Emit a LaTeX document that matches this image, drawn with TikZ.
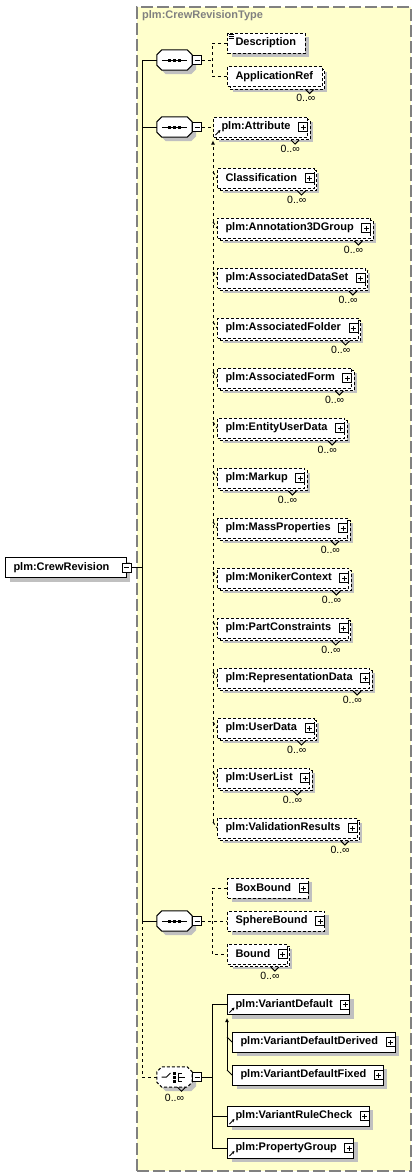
\documentclass[tikz,border=0pt]{standalone}
\usepackage{fontspec}
\setmainfont{Liberation Sans}
\usetikzlibrary{shadows,arrows.meta}
\definecolor{typefill}{RGB}{255,255,204}
\definecolor{typeline}{RGB}{128,128,128}
\definecolor{shadowgray}{RGB}{192,192,192}
\tikzset{
  elrpad/.store in=\elrpad, elrpad=17pt,
  optbox/.style={dash pattern=on 3pt off 2pt},
  elem/.style={draw, fill=white, line width=1pt, minimum height=20pt,
    inner xsep=0pt, inner ysep=0pt, anchor=west,
    font=\fontsize{11}{13}\selectfont\bfseries,
    execute at begin node={\hspace*{8pt}},
    execute at end node={\hspace*{\elrpad}}},
  single/.style={elem, drop shadow={shadow xshift=4pt, shadow yshift=-4pt, fill=shadowgray, opacity=1}},
  multi/.style={elem, optbox,
    drop shadow={shadow xshift=5pt, shadow yshift=-5pt, fill=shadowgray, opacity=1},
    copy shadow={shadow xshift=2.5pt, shadow yshift=-2.5pt, fill=white, draw=black, line width=1pt, dash pattern=on 3pt off 2pt}},
  refel/.style={path picture={\draw[line width=1pt, solid, -{Stealth[length=3pt, width=3pt]}]
    ([shift={(2pt,2pt)}]path picture bounding box.south west) -- ++(5pt,5pt);}},
  docel/.style={path picture={\draw[line width=1pt, solid]
    ([shift={(1pt,-1.5pt)}]path picture bounding box.north west) -- ++(5pt,0pt) ++(-5pt,-2pt) -- ++(5pt,0pt) ++(-5pt,-2pt) -- ++(5pt,0pt);}},
  plusbox/.style={draw, solid, fill=white, line width=1pt, minimum size=9pt, inner sep=0pt, anchor=east,
    path picture={\draw[line width=1pt] ([xshift=2pt]path picture bounding box.west) -- ([xshift=-2pt]path picture bounding box.east)
      ([yshift=2pt]path picture bounding box.south) -- ([yshift=-2pt]path picture bounding box.north);}},
  minusbox/.style={draw, solid, fill=white, line width=1pt, minimum size=9pt, inner sep=0pt, anchor=west,
    path picture={\draw[line width=1pt] ([xshift=2pt]path picture bounding box.west) -- ([xshift=-2pt]path picture bounding box.east);}},
  grpbox/.style={rectangle, minimum width=35pt, minimum height=20pt, inner sep=0pt},
  octpath/.style={insert path={([xshift=5pt]#1.north west) -- ([xshift=-5pt]#1.north east) -- ([yshift=-5pt]#1.north east)
    -- ([yshift=5pt]#1.south east) -- ([xshift=-5pt]#1.south east) -- ([xshift=5pt]#1.south west)
    -- ([yshift=5pt]#1.south west) -- ([yshift=-5pt]#1.north west) -- cycle}},
  occ/.style={anchor=north east, inner sep=0pt, font=\fontsize{10.5}{12}\selectfont},
  notch/.style={line width=1pt, solid},
  conn/.style={line width=1pt},
  optline/.style={line width=1pt, dash pattern=on 3pt off 3pt}
}
% Sequenz- und Auswahl-Symbol
\newcommand{\seqsym}[1]{%
  \path[fill=shadowgray, transform canvas={shift={(4pt,-4pt)}}, octpath=#1];
  \draw[conn, fill=white, octpath=#1];
  \draw[conn] ([xshift=5pt]#1.west) -- ([xshift=-5pt]#1.east);
  \foreach \dx in {-5,0,5} \fill[black] ([xshift=\dx pt]#1.center) +(-1.5pt,-1.5pt) rectangle +(1.5pt,1.5pt);}
\newcommand{\choicesym}[1]{%
  \path[fill=shadowgray, transform canvas={shift={(4pt,-4pt)}}, octpath=#1];
  \draw[conn, optbox, fill=white, octpath=#1];
  \draw[conn] ([xshift=-13pt]#1.center) -- ++(5pt,0pt) -- ++(4pt,4pt);
  \foreach \dy in {-4,0,4} \fill[black] ([yshift=\dy pt]#1.center) +(-1.5pt,-1.5pt) rectangle +(1.5pt,1.5pt);
  \draw[conn] ([shift={(4pt,4.5pt)}]#1.center) -- ++(0pt,-9pt)
    ([shift={(4pt,4pt)}]#1.center) -- ++(3pt,0pt)
    ([shift={(4pt,-4pt)}]#1.center) -- ++(3pt,0pt)
    ([xshift=4pt]#1.center) -- ++(6pt,0pt);
  \draw[notch] ([xshift=3pt]#1.south) -- ++(4pt,-4pt) -- ++(4pt,4pt);}
\begin{document}
\begin{tikzpicture}[x=1pt, y=-1pt]
\useasboundingbox (0,0) rectangle (416,1176);
\fill[white] (0,0) rectangle (416,1176);
% Typ-Rahmen:
\node[draw=typeline, fill=typefill, line width=1.5pt, dash pattern=on 12pt off 4pt, anchor=north west,
  minimum width=274pt, minimum height=1164pt, inner sep=0pt] (ct) at (136,6) {};
\node[anchor=west, inner sep=0pt, text=typeline, font=\fontsize{11}{13}\selectfont\bfseries] (ctl) at (142,16) {plm:CrewRevisionType};
% Wurzel:
\node[single] (root) at (5,567.5) {plm:CrewRevision};
\node[minusbox, anchor=center] (rx) at (root.east) {};
\coordinate (tk) at (142,0);
\coordinate (br) at (212,0);
% Sequenzen:
\node[grpbox] (s1) at (174.5,60) {};
\seqsym{s1}
\node[minusbox] (s1x) at (s1.east) {};
\node[grpbox] (s2) at (174.5,127) {};
\seqsym{s2}
\node[minusbox] (s2x) at (s2.east) {};
\node[grpbox] (s3) at (174.5,921) {};
\seqsym{s3}
\node[minusbox] (s3x) at (s3.east) {};
\node[grpbox] (ch) at (174.5,1077) {};
\choicesym{ch}
\node[minusbox] (chx) at (ch.east) {};
\node[occ, anchor=north] (chm) at ([yshift=-7pt]ch.south) {0..∞};
% Sequenz 1:
\node[single, optbox, docel, elrpad=9pt] (desc) at (227,43) {Description};
\node[multi, elrpad=9pt] (app) at (227,76.5) {ApplicationRef};
\draw[notch] ([xshift=-17pt,yshift=-2.5pt]app.south east) -- ++(4pt,-4pt) -- ++(4pt,4pt);
\node[occ] (appm) at ([xshift=-7pt,yshift=-7pt]app.south east) {0..∞};
% Sequenz 2:
\node[multi, refel] (attr) at (213,127) {plm:Attribute};
\node[plusbox] (attrx) at (attr.east) {};
\draw[notch] ([xshift=-17pt,yshift=-2.5pt]attr.south east) -- ++(4pt,-4pt) -- ++(4pt,4pt);
\node[occ] (attrm) at ([xshift=-8pt,yshift=-7pt]attr.south east) {0..∞};
\foreach \nm [count=\i] in {Classification, plm:Annotation3DGroup, plm:AssociatedDataSet, plm:AssociatedFolder,
  plm:AssociatedForm, plm:EntityUserData, plm:Markup, plm:MassProperties, plm:MonikerContext,
  plm:PartConstraints, plm:RepresentationData, plm:UserData, plm:UserList, plm:ValidationResults}{
  \node[multi] (m\i) at (217,128+50*\i) {\nm};
  \node[plusbox] (mx\i) at (m\i.east) {};
  \draw[notch] ([xshift=-17pt,yshift=-2.5pt]m\i.south east) -- ++(4pt,-4pt) -- ++(4pt,4pt);
  \node[occ] (mm\i) at ([xshift=-8pt,yshift=-7pt]m\i.south east) {0..∞};
  \draw[optline] ([yshift=6pt]m\i.west -| attr.west) -- (m\i.west);
}
\draw[optline, -{Latex[length=4pt, width=4pt]}] ([yshift=6pt]m14.west -| attr.west) -- ([yshift=-3pt]attr.south west);
% Sequenz 3:
\node[single, optbox] (bxb) at (227,888) {BoxBound};
\node[plusbox] (bxbx) at (bxb.east) {};
\node[single, optbox] (sph) at (227,921) {SphereBound};
\node[plusbox] (sphx) at (sph.east) {};
\node[multi] (bnd) at (227,954) {Bound};
\node[plusbox] (bndx) at (bnd.east) {};
\draw[notch] ([xshift=-17pt,yshift=-2.5pt]bnd.south east) -- ++(4pt,-4pt) -- ++(4pt,4pt);
\node[occ] (bndm) at ([xshift=-8pt,yshift=-7pt]bnd.south east) {0..∞};
% Auswahl:
\node[single, refel] (vd) at (227,1004.5) {plm:VariantDefault};
\node[plusbox] (vdx) at (vd.east) {};
\node[single] (vdd) at (232,1042) {plm:VariantDefaultDerived};
\node[plusbox] (vddx) at (vdd.east) {};
\node[single] (vf) at (232,1075) {plm:VariantDefaultFixed};
\node[plusbox] (vfx) at (vf.east) {};
\node[single, refel] (vr) at (227,1116) {plm:VariantRuleCheck};
\node[plusbox] (vrx) at (vr.east) {};
\node[single, refel] (pg) at (227,1148) {plm:PropertyGroup};
\node[plusbox] (pgx) at (pg.east) {};
% Linien:
\draw[conn] (rx.east) -- (rx.east -| tk);
\draw[conn] (s1.west -| tk) -- (s3.west -| tk);
\draw[conn] (s1.west -| tk) -- (s1.west);
\draw[conn] (s2.west -| tk) -- (s2.west);
\draw[conn] (s3.west -| tk) -- (s3.west);
\draw[optline] (s3.west -| tk) -- (ch.west -| tk) -- (ch.west);
\draw[optline] (s1x.east) -- (s1x.east -| br);
\draw[optline] (desc.west) -| (br |- app.west) -- (app.west);
\draw[optline] (s2x.east) -- (attr.west);
\draw[optline] (s3x.east) -- (sph.west);
\draw[optline] (bxb.west) -| (br |- bnd.west) -- (bnd.west);
\draw[conn] (chx.east) -- (chx.east -| br);
\draw[conn] (vd.west) -| (br |- pg.west) -- (pg.west);
\draw[conn] (br |- vr.west) -- (vr.west);
\draw[conn, -{Latex[length=4pt, width=4pt]}] ([yshift=5pt]vf.west -| vd.west) -- ([yshift=-3pt]vd.south west);
\draw[conn] ([yshift=5pt]vdd.west -| vd.west) -- (vdd.west);
\draw[conn] ([yshift=5pt]vf.west -| vd.west) -- (vf.west);
\end{tikzpicture}
\end{document}
